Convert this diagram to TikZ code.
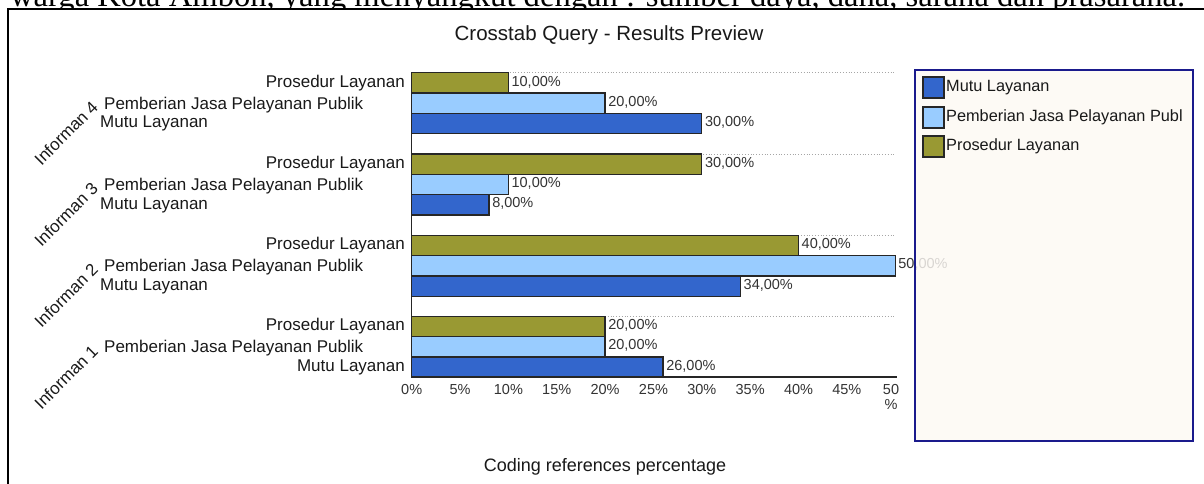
\documentclass[tikz,border=0pt]{standalone}
\usepackage{fontspec}
\setmainfont{Liberation Sans}
\newfontfamily\docserif{Liberation Serif}
\definecolor{mutu}{HTML}{3366CC}
\definecolor{pemb}{HTML}{99CCFF}
\definecolor{pros}{HTML}{999933}
\definecolor{txtdark}{HTML}{333333}
\definecolor{legfill}{HTML}{FDF9F4}
\definecolor{legborder}{HTML}{1A1A8C}
\newcommand\drawbar[5]{%
  \pgfmathsetmacro\yA{#1+#2*20.33}%
  \pgfmathsetmacro\yB{#1+(#2+1)*20.33}%
  \pgfmathsetmacro\yM{#1+(#2+0.5)*20.33}%
  \pgfmathsetmacro\xB{411.7+9.67*#3}%
  \draw[barline, fill=#4] (411.7,\yA) rectangle (\xB,\yB);
  \node[vallabel] (#5) at (\xB,\yM) {#3,00\%};
}
\begin{document}
\begin{tikzpicture}[x=1pt,y=-1pt,
  barline/.style={draw=black!85, line width=1.3pt},
  gridline/.style={draw=black!35, dotted, line width=0.8pt},
  vallabel/.style={anchor=west, inner sep=0pt, xshift=3pt, yshift=1pt, text=txtdark, font=\fontsize{14.5}{16}\selectfont},
  ticklabel/.style={inner sep=0pt, text=txtdark, font=\fontsize{14.5}{15.5}\selectfont},
  catlabel/.style={inner sep=0pt, text=black!90, font=\fontsize{17}{19}\selectfont},
  inflabel/.style={inner sep=0pt, rotate=45, text=black!90, font=\fontsize{17}{19}\selectfont},
  leglabel/.style={anchor=west, inner sep=0pt, text=black!90, font=\fontsize{16.3}{18}\selectfont},
  legsq/.style={draw=black!85, line width=1.3pt}]
\useasboundingbox (0,0) rectangle (1204,483);
\begin{scope}
  \clip (0,0) rectangle (1204,483);
  \node[anchor=base west, inner sep=0pt] (doctext) at (10,6.5)
    {\resizebox{1175pt}{!}{\docserif\fontsize{30}{36}\selectfont warga Kota Ambon, yang menyangkut dengan : sumber daya, dana, sarana dan prasarana.}};
  \draw[fill=white, line width=1.3pt] (8,9) rectangle (1240,520);
\end{scope}
% title
\node[inner sep=0pt, text=black!90, font=\fontsize{20.5}{22}\selectfont] (title) at (609,35) {Crosstab Query - Results Preview};
% grid lines
\foreach \t in {72.7,154,235.3,316.3} {\draw[gridline] (411.7,\t) -- (895,\t);}
% bars: Prosedur, Pemberian, Mutu
\drawbar{72.7}{0}{10}{pros}{v4a}
\drawbar{72.7}{1}{20}{pemb}{v4b}
\drawbar{72.7}{2}{30}{mutu}{v4c}
\drawbar{154}{0}{30}{pros}{v3a}
\drawbar{154}{1}{10}{pemb}{v3b}
\drawbar{154}{2}{8}{mutu}{v3c}
\drawbar{235.3}{0}{40}{pros}{v2a}
\drawbar{235.3}{1}{50}{pemb}{v2b}
\drawbar{235.3}{2}{34}{mutu}{v2c}
\drawbar{316.3}{0}{20}{pros}{v1a}
\drawbar{316.3}{1}{20}{pemb}{v1b}
\drawbar{316.3}{2}{26}{mutu}{v1c}
% axes
\coordinate (axtop) at (411.7,72);
\coordinate (axorig) at (411.7,377);
\coordinate (axend) at (897,377);
\draw[black!85, line width=1.3pt] (axtop) -- (axorig) -- (axend);
% tick labels
\foreach \p in {0,5,10,15,20,25,30,35,40,45} {\node[ticklabel] (t\p) at ({411.7+9.67*\p},389.5) {\p\%};}
\node[ticklabel, align=center] (t50) at (891,397) {50\\\%};
% category labels
\foreach \t/\n in {72.7/4,154/3,235.3/2} {
  \node[catlabel, anchor=east] (p\n) at (405,{\t+10.2}) {Prosedur Layanan};
  \node[catlabel, anchor=west] (j\n) at (104,{\t+32}) {Pemberian Jasa Pelayanan Publik};
  \node[catlabel, anchor=west] (m\n) at (100,{\t+51}) {Mutu Layanan};
}
\node[catlabel, anchor=east] (p1) at (405,326.5) {Prosedur Layanan};
\node[catlabel, anchor=west] (j1) at (104,348) {Pemberian Jasa Pelayanan Publik};
\node[catlabel, anchor=east] (m1) at (405,367) {Mutu Layanan};
% informan labels
\node[inflabel] (inf4) at (66,133) {Informan 4};
\node[inflabel] (inf3) at (66,214.5) {Informan 3};
\node[inflabel] (inf2) at (66,295.5) {Informan 2};
\node[inflabel] (inf1) at (66,377) {Informan 1};
% legend
\draw[fill=legfill, fill opacity=0.82, draw=legborder, line width=1.3pt] (915,70) rectangle (1193,441);
\draw[legsq, fill=mutu] (923,77) rectangle (944,98);
\node[leglabel] (l1) at (946,87.5) {Mutu Layanan};
\draw[legsq, fill=pemb] (923,107) rectangle (944,128);
\node[leglabel] (l2) at (946,117) {Pemberian Jasa Pelayanan Publ};
\draw[legsq, fill=pros] (923,136) rectangle (944,157);
\node[leglabel] (l3) at (946,146.5) {Prosedur Layanan};
% x axis title
\node[inner sep=0pt, text=black!90, font=\fontsize{18}{20}\selectfont] (xtitle) at (605,467) {Coding references percentage};
\end{tikzpicture}
\end{document}
